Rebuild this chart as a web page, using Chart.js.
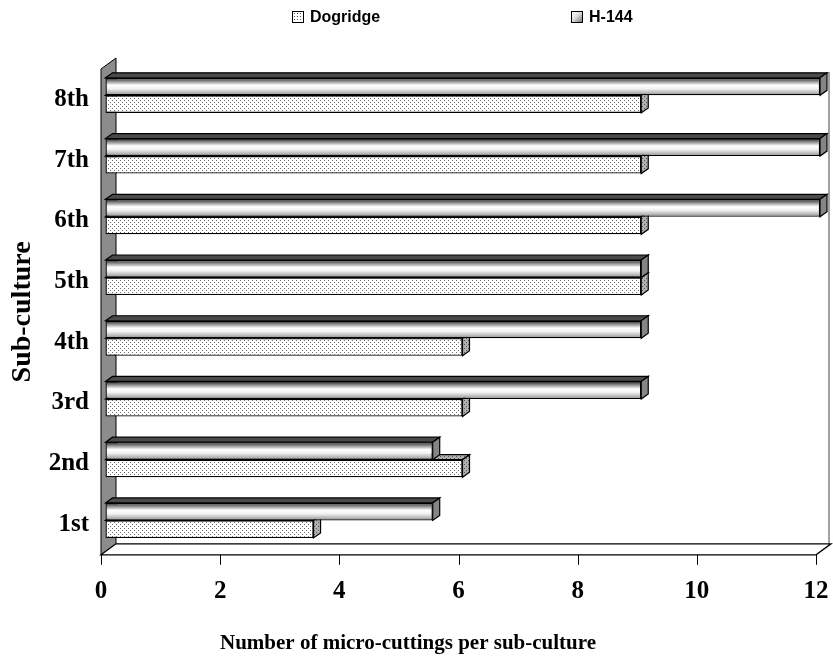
<!DOCTYPE html>
<html>
<head>
<meta charset="utf-8">
<script src="https://cdn.jsdelivr.net/npm/chart.js@4.4.0/dist/chart.umd.min.js"></script>
<style>
  html, body { margin: 0; padding: 0; background: #fff; }
  #wrap { position: relative; width: 833px; height: 660px; }
  #subChart { position: absolute; left: 0; top: 0; }
  .legend { position: absolute; top: 8px; display: flex; align-items: center;
            font: bold 16px "Liberation Sans", Arial, sans-serif; color: #000; }
  .box { width: 10px; height: 10px; border: 1px solid #000; margin-right: 6px; }
  #dogBox { background-color: #fff;
            background-image: radial-gradient(#555 0.8px, transparent 0.9px);
            background-size: 3px 3px; }
  #hBox { background: linear-gradient(135deg, #fff 0%, #ddd 45%, #777 100%); }
</style>
</head>
<body>
<div id="wrap">
  <canvas id="subChart" width="833" height="660"></canvas>
  <div class="legend" style="left:292px"><span class="box" id="dogBox"></span>Dogridge</div>
  <div class="legend" style="left:571px"><span class="box" id="hBox"></span>H-144</div>
</div>
<script>
// data
const subCultures = ['1st', '2nd', '3rd', '4th', '5th', '6th', '7th', '8th'];
const dogridge = [3.5, 6, 6, 6, 9, 9, 9, 9];
const h144 = [5.5, 5.5, 9, 9, 9, 12, 12, 12];
const xTicks = [0, 2, 4, 6, 8, 10, 12];

const serif = '"Liberation Serif", "Times New Roman", serif';

// dotted fill used for Dogridge
function dotPattern(bg, dot) {
    const c = document.createElement('canvas');
    c.width = 4; c.height = 4;
    const g = c.getContext('2d');
    g.fillStyle = bg;
    g.fillRect(0, 0, 4, 4);
    g.fillStyle = dot;
    g.fillRect(0, 0, 1, 1);
    g.fillRect(2, 2, 1, 1);
    return g.createPattern(c, 'repeat');
}

const canvas = document.getElementById('subChart');
const dogFront = dotPattern('#ffffff', '#6a6a6a');
const dogSide = dotPattern('#b0b0b0', '#555555');

// shiny tube look for H-144, needs the bar's own position
function tubeFill(context) {
    const el = context.element;
    if (!el || typeof el.y !== 'number' || typeof el.height !== 'number') return '#cccccc';
    const top = el.y - el.height / 2;
    const g = context.chart.ctx.createLinearGradient(0, top, 0, top + el.height);
    g.addColorStop(0, '#1e1e1e');
    g.addColorStop(0.14, '#707070');
    g.addColorStop(0.42, '#ffffff');
    g.addColorStop(0.62, '#f2f2f2');
    g.addColorStop(0.86, '#b4b4b4');
    g.addColorStop(1, '#8a8a8a');
    return g;
}

const WALL = { x: 15, y: -11 };
const BAR = { x: 7, y: -5 };
const SHIFT = { x: 4, y: -4 };

function poly(ctx, pts, fill) {
    ctx.beginPath();
    ctx.moveTo(pts[0][0], pts[0][1]);
    for (let i = 1; i < pts.length; i++) ctx.lineTo(pts[i][0], pts[i][1]);
    ctx.closePath();
    if (fill) { ctx.fillStyle = fill; ctx.fill(); }
    ctx.stroke();
}

const scene3d = {
    id: 'scene3d',
    beforeDatasetsDraw(chart) {
        const ctx = chart.ctx;
        const { left, right, top, bottom } = chart.chartArea;
        ctx.save();
        ctx.strokeStyle = '#000';
        ctx.lineWidth = 1;
        // left side wall
        poly(ctx, [[left, bottom], [left, top], [left + WALL.x, top + WALL.y], [left + WALL.x, bottom + WALL.y]], '#8c8c8c');
        // right edge of back wall
        ctx.strokeStyle = '#444';
        ctx.beginPath();
        ctx.moveTo(right + WALL.x - 2, top + 3);
        ctx.lineTo(right + WALL.x - 2, bottom + WALL.y);
        ctx.stroke();
        // floor
        ctx.strokeStyle = '#000';
        ctx.lineWidth = 1.3;
        poly(ctx, [[left, bottom], [right, bottom], [right + WALL.x, bottom + WALL.y], [left + WALL.x, bottom + WALL.y]], '#ffffff');
        // tick marks under the floor edge
        const xs = chart.scales.x;
        ctx.lineWidth = 1;
        xs.ticks.forEach(t => {
            const px = Math.round(xs.getPixelForValue(t.value)) + 0.5;
            ctx.beginPath();
            ctx.moveTo(px, bottom);
            ctx.lineTo(px, bottom + 10);
            ctx.stroke();
        });
        ctx.restore();
        // bars sit a little behind the front edge
        ctx.save();
        ctx.translate(SHIFT.x, SHIFT.y);
    },
    afterDatasetDraw(chart, args) {
        const ctx = chart.ctx;
        const isDog = args.index === 1;
        ctx.save();
        ctx.strokeStyle = '#000';
        ctx.lineWidth = 1.2;
        args.meta.data.forEach(bar => {
            const { x, y, base, height } = bar.getProps(['x', 'y', 'base', 'height'], true);
            const t = y - height / 2, b = y + height / 2;
            // top face
            poly(ctx, [[base, t], [base + BAR.x, t + BAR.y], [x + BAR.x, t + BAR.y], [x, t]], isDog ? dogSide : '#4a4a4a');
            // end face
            poly(ctx, [[x, t], [x + BAR.x, t + BAR.y], [x + BAR.x, b + BAR.y], [x, b]], isDog ? dogSide : '#858585');
        });
        ctx.restore();
    },
    afterDatasetsDraw(chart) {
        chart.ctx.restore();
    }
};

const chart = new Chart(canvas, {
    type: 'bar',
    data: {
        labels: subCultures,
        datasets: [
            {
                label: 'H-144',
                data: h144,
                backgroundColor: tubeFill,
                borderColor: '#000',
                borderWidth: 1.3,
                borderSkipped: false,
                clip: false
            },
            {
                label: 'Dogridge',
                data: dogridge,
                backgroundColor: dogFront,
                borderColor: '#000',
                borderWidth: 1.3,
                borderSkipped: false,
                clip: false
            }
        ]
    },
    options: {
        indexAxis: 'y',
        responsive: false,
        animation: false,
        devicePixelRatio: 1,
        layout: { padding: { top: 69, right: 17, left: 0, bottom: 0 } },
        datasets: { bar: { categoryPercentage: 0.577, barPercentage: 1 } },
        plugins: {
            legend: { display: false },
            tooltip: { enabled: false },
            // x-axis title, centred on the whole figure like the original
            title: {
                display: true,
                position: 'bottom',
                text: 'Number of micro-cuttings per sub-culture',
                color: '#000',
                padding: { top: 0, bottom: 4 },
                font: { family: serif, size: 21, weight: 'bold' }
            }
        },
        scales: {
            x: {
                min: xTicks[0],
                max: xTicks[xTicks.length - 1],
                afterFit: s => { s.height = 76; s.paddingLeft = 0; s.paddingRight = 0; },
                afterBuildTicks: s => { s.ticks = xTicks.map(v => ({ value: v })); },
                grid: { display: true, drawOnChartArea: false, color: 'rgba(0,0,0,0)', tickLength: 10 },
                border: { display: false },
                ticks: { color: '#000', padding: 12, font: { family: serif, size: 25, weight: 'bold' } }
            },
            y: {
                reverse: true,
                afterFit: s => { s.width = 101; },
                grid: { display: false, drawTicks: false },
                border: { display: false },
                ticks: { color: '#000', padding: 12, font: { family: serif, size: 25, weight: 'bold' } },
                title: {
                    display: true,
                    text: 'Sub-culture',
                    color: '#000',
                    padding: 6,
                    font: { family: serif, size: 28, weight: 'bold' }
                }
            }
        }
    },
    plugins: [scene3d]
});

// second pass so the tube gradient can follow each bar
chart.update('none');
</script>
</body>
</html>
